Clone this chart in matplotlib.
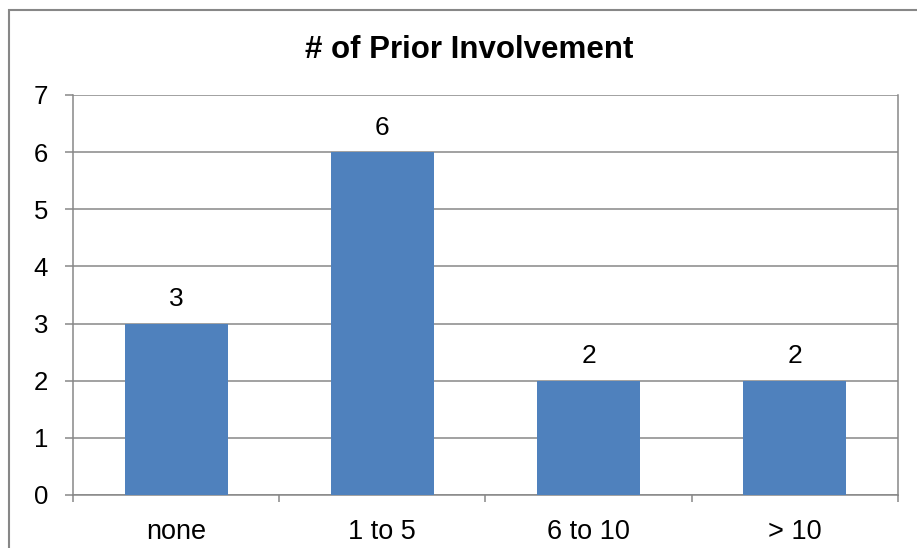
import matplotlib
matplotlib.use("Agg")
import matplotlib.pyplot as plt
from matplotlib.patches import Rectangle

categories = ["none", "1 to 5", "6 to 10", "> 10"]
values = [3, 6, 2, 2]
yticks = [0, 1, 2, 3, 4, 5, 6, 7]
title = "# of Prior Involvement"

plt.rcParams['font.family'] = ['Liberation Sans', 'DejaVu Sans']
W, H = 917, 548
fig = plt.figure(figsize=(W / 100, H / 100), dpi=100)
ax = fig.add_axes([73 / W, 1 - 495 / H, (898 - 73) / W, (495 - 95) / H])

grey = "#878787"
bar_color = "#4F81BD"

x = list(range(len(categories)))
bars = ax.bar(x, values, width=0.5, color=bar_color, zorder=3)
ax.set_xlim(-0.5, len(categories) - 0.5)
ax.set_ylim(0, 7)
ax.set_yticks(yticks)
ax.set_yticklabels([str(t) for t in yticks], fontsize=18.5)
ax.grid(axis='y', color=grey, linewidth=1.1, zorder=0)
ax.set_axisbelow(True)

# category labels centred, ticks at boundaries
ax.set_xticks(x)
ax.set_xticklabels(categories, fontsize=19.5)
ax.tick_params(axis='x', which='major', length=0, pad=17)
ax.set_xticks([i - 0.5 for i in range(len(categories) + 1)], minor=True)
ax.tick_params(axis='x', which='minor', length=5, width=1.1, color=grey, direction='out')
ax.tick_params(axis='y', length=6, width=1.1, color=grey, direction='out', pad=12)

for s in ['left', 'right', 'bottom']:
    ax.spines[s].set_color(grey)
    ax.spines[s].set_linewidth(1.1)
ax.spines['top'].set_visible(False)

for b, v in zip(bars, values):
    ax.annotate(str(v), (b.get_x() + b.get_width() / 2, v), xytext=(0, 9),
                textcoords='offset points', ha='center', va='bottom', fontsize=19)

fig.text(469 / W, 1 - 50 / H, title, ha='center', va='center', fontsize=22.5, fontweight='bold')

# outer chart border (only left/top visible in reference)
fig.patches.append(Rectangle((9 / W, -0.05), 1.1, 1 - 10 / H + 0.05, transform=fig.transFigure,
                             fill=False, edgecolor=grey, linewidth=1.5))

fig.savefig("out.png", dpi=100)
